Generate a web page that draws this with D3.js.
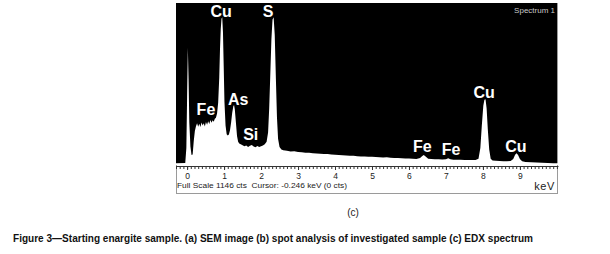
<!DOCTYPE html>
<html lang="en">
<head>
    <meta charset="UTF-8">
    <title>EDX spectrum</title>
    <script src="https://d3js.org/d3.v7.min.js"></script>
    <style>
        body { margin: 0; background: #fff; }
        svg { display: block; font-family: "Liberation Sans", Arial, sans-serif; }
        .peak { fill: #fff; font-size: 16px; font-weight: bold; text-anchor: middle; }
        .axis text { font-size: 8.5px; fill: #222; }
        .axis line, .axis path { stroke: #333; }
    </style>
</head>
<body>
<script>
    const width = 610, height = 254;
    const plotLeft = 176, plotRight = 558, plotTop = 3, plotBottom = 165;

    // keV, counts
    const spectrum = [
        [-0.30,12],[-0.05,14],[-0.02,120],[0.00,480],[0.02,830],[0.04,610],[0.06,300],[0.09,130],
        [0.12,70],[0.15,75],[0.18,170],[0.21,240],[0.24,275],[0.27,295],[0.30,270],[0.33,292],
        [0.36,268],[0.39,300],[0.42,280],[0.45,296],[0.48,272],[0.51,305],[0.54,285],[0.57,310],
        [0.60,290],[0.63,318],[0.66,298],[0.69,316],[0.72,306],[0.75,328],[0.78,335],[0.81,365],
        [0.84,440],[0.87,620],[0.89,820],[0.91,960],[0.93,1035],[0.95,1045],[0.97,940],[0.99,700],
        [1.01,450],[1.04,280],[1.07,218],[1.10,208],[1.13,215],[1.16,245],[1.19,300],[1.22,370],
        [1.25,415],[1.27,425],[1.29,395],[1.32,300],[1.35,205],[1.38,165],[1.41,152],[1.45,146],
        [1.50,140],[1.55,132],[1.60,138],[1.65,128],[1.70,136],[1.75,142],[1.80,130],[1.85,126],
        [1.90,134],[1.95,127],[2.00,133],[2.05,138],[2.10,146],[2.15,165],[2.19,230],[2.22,400],
        [2.25,640],[2.28,890],[2.31,1030],[2.34,1045],[2.37,920],[2.40,620],[2.43,340],[2.46,185],
        [2.50,128],[2.55,110],[2.60,104],[2.70,101],[2.80,96],[2.90,97],[3.00,92],[3.10,90],
        [3.20,86],[3.30,87],[3.40,83],[3.50,81],[3.60,80],[3.70,77],[3.80,78],[3.90,74],
        [4.00,72],[4.10,71],[4.20,69],[4.30,68],[4.40,65],[4.50,66],[4.60,62],[4.70,61],
        [4.80,60],[4.90,58],[5.00,59],[5.10,56],[5.20,55],[5.30,53],[5.40,54],[5.50,51],
        [5.60,50],[5.70,49],[5.80,48],[5.90,46],[6.00,46],[6.10,44],[6.20,43],[6.30,50],
        [6.36,64],[6.40,70],[6.45,60],[6.52,45],[6.60,42],[6.70,41],[6.80,40],[6.90,39],
        [7.00,41],[7.06,47],[7.12,40],[7.20,38],[7.30,37],[7.40,38],[7.50,36],[7.60,35],
        [7.70,35],[7.80,36],[7.88,45],[7.93,120],[7.97,280],[8.01,420],[8.04,462],[8.07,465],
        [8.10,400],[8.13,260],[8.17,110],[8.21,45],[8.26,32],[8.35,30],[8.45,28],[8.55,27],
        [8.65,26],[8.75,28],[8.82,42],[8.87,72],[8.91,83],[8.95,70],[9.00,42],[9.06,26],
        [9.15,22],[9.30,20],[9.45,18],[9.60,16],[9.75,15],[9.90,13],[10.03,12]
    ];

    const peakNames = ["Cu", "S", "Fe", "As", "Si", "Cu", "Fe", "Fe", "Cu"];
    const peakKeV   = [0.92, 2.19, 0.51, 1.38, 1.72, 8.03, 6.36, 7.14, 8.89];
    const peakCts   = [1047, 1047, 354, 424, 177, 474, 92, 71, 92];

    const tickKeV = [0, 1, 2, 3, 4, 5, 6, 7, 8, 9];

    const x = d3.scaleLinear().domain([-0.30, 10.03]).range([plotLeft, plotRight]);
    const y = d3.scaleLinear().domain([0, 1146]).range([plotBottom, plotTop]);

    const svg = d3.select("body").append("svg")
            .attr("width", width).attr("height", height);

    // frame around plot + status bar
    svg.append("rect")
            .attr("x", plotLeft + 0.5).attr("y", plotTop + 0.5)
            .attr("width", plotRight - plotLeft - 1).attr("height", 193 - plotTop)
            .attr("fill", "#fff").attr("stroke", "#9a9a9a");

    svg.append("rect")
            .attr("x", plotLeft).attr("y", plotTop)
            .attr("width", plotRight - plotLeft - 1).attr("height", plotBottom - plotTop)
            .attr("fill", "#000");

    const area = d3.area()
            .x(d => x(d[0]))
            .y0(plotBottom)
            .y1(d => y(d[1]));

    svg.append("path")
            .datum(spectrum)
            .attr("d", area)
            .attr("fill", "#fff");

    // minor ticks
    svg.append("g").attr("class", "axis")
            .attr("transform", `translate(0,${plotBottom + 1})`)
            .call(d3.axisBottom(x).ticks(100).tickSize(3).tickFormat("").tickSizeOuter(0))
            .select(".domain").remove();

    svg.append("g").attr("class", "axis")
            .attr("transform", `translate(0,${plotBottom + 1})`)
            .call(d3.axisBottom(x).tickValues(tickKeV).tickSize(4).tickPadding(3).tickSizeOuter(0));

    svg.selectAll(".peak")
            .data(peakNames)
            .join("text")
            .attr("class", "peak")
            .attr("x", (d, i) => x(peakKeV[i]))
            .attr("y", (d, i) => y(peakCts[i]))
            .text(d => d);

    svg.append("text")
            .attr("x", 555).attr("y", 13)
            .attr("text-anchor", "end")
            .attr("font-size", 8).attr("fill", "#c8c8c8")
            .text("Spectrum 1");

    svg.append("text")
            .attr("x", 555).attr("y", 190)
            .attr("text-anchor", "end")
            .attr("font-size", 11).attr("fill", "#222")
            .attr("letter-spacing", 0.6)
            .text("keV");

    svg.append("text")
            .attr("x", 177).attr("y", 188)
            .attr("font-size", 8).attr("fill", "#222")
            .attr("textLength", 170).attr("lengthAdjust", "spacingAndGlyphs")
            .text("Full Scale 1146 cts\u00a0\u00a0Cursor: -0.246 keV (0 cts)");

    svg.append("text")
            .attr("x", 353).attr("y", 216)
            .attr("text-anchor", "middle")
            .attr("font-size", 10).attr("fill", "#222")
            .text("(c)");

    svg.append("text")
            .attr("x", 13).attr("y", 242)
            .attr("font-size", 10).attr("font-weight", "bold").attr("fill", "#111")
            .attr("textLength", 520).attr("lengthAdjust", "spacingAndGlyphs")
            .text("Figure 3\u2014Starting enargite sample. (a) SEM image (b) spot analysis of investigated sample (c) EDX spectrum");
</script>
</body>
</html>
